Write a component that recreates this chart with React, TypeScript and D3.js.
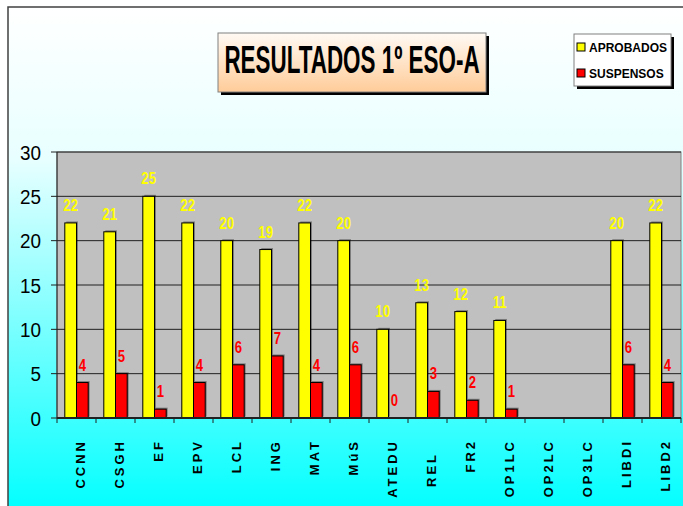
import React from "react";
import * as d3 from "d3";

const categories = ["CCNN", "CSGH", "EF", "EPV", "LCL", "ING", "MAT", "MúS", "ATEDU", "REL  ", "FR2", "OP1LC", "OP2LC", "OP3LC", "LIBDI", "LIBD2"];
const aprobados: (number | null)[] = [22, 21, 25, 22, 20, 19, 22, 20, 10, 13, 12, 11, null, null, 20, 22];
const suspensos: (number | null)[] = [4, 5, 1, 4, 6, 7, 4, 6, 0, 3, 2, 1, null, null, 6, 4];
const yTicks = [0, 5, 10, 15, 20, 25, 30];
const seriesNames = ["APROBADOS", "SUSPENSOS"];
const seriesColors = ["#FFFF00", "#FF0000"];
const title = "RESULTADOS 1º ESO-A";

export default function App() {
  const W = 683, H = 506;
  const plot = { left: 57, right: 681, top: 152, bottom: 418 };
  const x = d3.scaleBand<number>().domain(categories.map((_, i) => i)).range([plot.left, plot.right]);
  const xs = d3.scaleBand<number>().domain([0, 1]).range([0, x.bandwidth()]).paddingInner(0).paddingOuter(0.667);
  const y = d3.scaleLinear().domain([0, 30]).range([plot.bottom, plot.top]);
  const series = [aprobados, suspensos];
  const font = "'Liberation Sans', Arial, sans-serif";

  return (
    <svg width={W} height={H} style={{ position: "absolute", left: 0, top: 0 }} fontFamily={font}>
      <defs>
        <linearGradient id="bg" x1="0" y1="0" x2="0" y2="1">
          <stop offset="0" stopColor="#FFFFFF" />
          <stop offset="0.3" stopColor="#E8FFFF" />
          <stop offset="1" stopColor="#00FFFF" />
        </linearGradient>
        <linearGradient id="tg" x1="0" y1="0" x2="0" y2="1">
          <stop offset="0" stopColor="#FFFAF4" />
          <stop offset="1" stopColor="#FFCC99" />
        </linearGradient>
      </defs>
      <rect x={0} y={0} width={W} height={H} fill="#FFFFFF" />
      <rect x={8} y={7} width={W} height={H} fill="url(#bg)" stroke="#404040" strokeWidth={1.5} />

      {/* plot area */}
      <rect x={plot.left} y={plot.top} width={plot.right - plot.left} height={plot.bottom - plot.top} fill="#C0C0C0" stroke="#808080" strokeWidth={1} />
      {yTicks.filter(t => t > 0).map(t => (
        <line key={"g" + t} x1={plot.left} x2={plot.right} y1={y(t)} y2={y(t)} stroke="#202020" strokeWidth={1} />
      ))}

      {/* bars */}
      {series.map((vals, s) =>
        vals.map((v, i) => {
          if (v === null) return null;
          const bx = (x(i) as number) + (xs(s) as number);
          const bw = xs.bandwidth();
          const top = y(v);
          const h = plot.bottom - top;
          return (
            <g key={`b${s}-${i}`}>
              {h > 0 && <rect x={bx + 1.5} y={top - 1.5} width={bw} height={h} fill="rgba(0,0,0,0.35)" />}
              {h > 0 && <rect x={bx} y={top} width={bw} height={h} fill={seriesColors[s]} stroke="#000" strokeWidth={1} />}
            </g>
          );
        })
      )}

      {/* value labels */}
      {series.map((vals, s) =>
        vals.map((v, i) => {
          if (v === null) return null;
          const cx = (x(i) as number) + (xs(s) as number) + xs.bandwidth() / 2;
          return (
            <text key={`l${s}-${i}`} transform={`translate(${cx},${y(v) - 12}) scale(0.82,1)`} textAnchor="middle" fontSize={16} fontWeight="bold" fill={seriesColors[s]}>
              {v}
            </text>
          );
        })
      )}

      {/* axes */}
      <line x1={plot.left} x2={plot.left} y1={plot.top} y2={plot.bottom} stroke="#202020" strokeWidth={1} />
      {yTicks.map(t => (
        <g key={"yt" + t}>
          <line x1={plot.left - 6} x2={plot.left} y1={y(t)} y2={y(t)} stroke="#202020" strokeWidth={1} />
          <text transform={`translate(41,${y(t) + 7.5}) scale(0.9,1)`} textAnchor="end" fontSize={21} fill="#000">{t}</text>
        </g>
      ))}
      <line x1={plot.left} x2={plot.right} y1={plot.bottom} y2={plot.bottom} stroke="#202020" strokeWidth={2} />
      {categories.map((_, i) => (
        <line key={"xt" + i} x1={x(i) as number} x2={x(i) as number} y1={plot.bottom} y2={plot.bottom + 5} stroke="#202020" strokeWidth={1} />
      ))}
      <line x1={plot.right} x2={plot.right} y1={plot.bottom} y2={plot.bottom + 5} stroke="#202020" strokeWidth={1} />
      {categories.map((c, i) => {
        const cx = (x(i) as number) + x.bandwidth() / 2;
        return (
          <text key={"xl" + i} transform={`translate(${cx + 8},439) rotate(-90)`} textAnchor="end" fontSize={13} fontWeight="bold" letterSpacing={3} fill="#000" style={{ whiteSpace: "pre" }}>
            {c}
          </text>
        );
      })}

      {/* title */}
      <rect x={221} y={36} width={268} height={59} fill="#000" />
      <rect x={218} y={33} width={268} height={59} fill="url(#tg)" stroke="#808080" strokeWidth={1} />
      <text transform="translate(352,73) scale(0.59,1)" textAnchor="middle" fontSize={38} fontWeight="bold" fill="#000">{title}</text>

      {/* legend */}
      <rect x={577} y={37} width={97} height={52} fill="#000" />
      <rect x={574} y={34} width={97} height={52} fill="#FFFFFF" stroke="#808080" strokeWidth={1} />
      {seriesNames.map((n, s) => (
        <g key={"lg" + s}>
          <rect x={577} y={43 + s * 26} width={8} height={8} fill={seriesColors[s]} stroke="#000" strokeWidth={1} />
          <text x={589} y={52 + s * 26} fontSize={12} fontWeight="bold" fill="#000">{n}</text>
        </g>
      ))}
    </svg>
  );
}
